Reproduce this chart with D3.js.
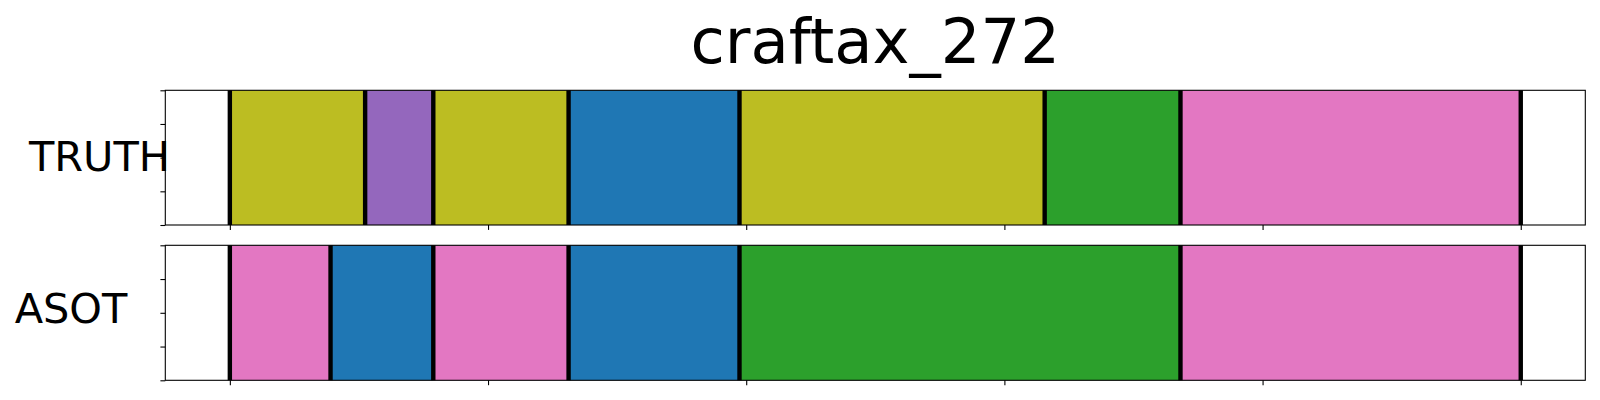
<!DOCTYPE html>
<html>
<head>
<meta charset="utf-8">
<script src="https://cdn.jsdelivr.net/npm/d3@7"></script>
<style>
  html, body { margin: 0; padding: 0; background: #fff; }
  svg { display: block; }
  text { font-family: "DejaVu Sans", sans-serif; fill: #000; }
</style>
</head>
<body>
<svg id="chart" width="1600" height="400"></svg>
<script>
// ---- data ----
const title = "craftax_272";
const rowLabels = ["TRUTH", "ASOT"];
const truthStarts = [0, 26.2, 39.4, 65.6, 98.7, 157.8, 184.1];
const truthEnds   = [26.2, 39.4, 65.6, 98.7, 157.8, 184.1, 250];
const truthClasses = ["olive", "purple", "olive", "blue", "olive", "green", "pink"];
const asotStarts = [0, 19.5, 39.4, 65.6, 98.7, 184.1];
const asotEnds   = [19.5, 39.4, 65.6, 98.7, 184.1, 250];
const asotClasses = ["pink", "blue", "pink", "blue", "green", "pink"];
const classNames = ["blue", "green", "purple", "pink", "olive"];
const classColors = ["#1f77b4", "#2ca02c", "#9467bd", "#e377c2", "#bcbd22"];
const xTicks = [0, 50, 100, 150, 200, 250];
const yTicks = [0, 0.25, 0.5, 0.75, 1];
const xDomain = [-12.5, 262.5];

// ---- layout ----
const svg = d3.select("#chart");
const left = 165.3, right = 1585.3;
const panels = [
  { label: rowLabels[0], starts: truthStarts, ends: truthEnds, cls: truthClasses, top: 90.3, bottom: 225.0, lx: 99.5, ly: 170.5 },
  { label: rowLabels[1], starts: asotStarts, ends: asotEnds, cls: asotClasses, top: 245.3, bottom: 380.3, lx: 71, ly: 323.3 }
];
const color = d3.scaleOrdinal().domain(classNames).range(classColors);
const x = d3.scaleLinear().domain(xDomain).range([left, right]);

svg.append("text")
  .attr("x", (left + right) / 2).attr("y", 63)
  .attr("text-anchor", "middle")
  .style("font-size", "62.5px")
  .text(title);

panels.forEach(p => {
  const y = d3.scaleLinear().domain([0, 1]).range([p.bottom, p.top]);
  const g = svg.append("g");
  const segs = p.starts.map((s, i) => ({ s, e: p.ends[i], c: p.cls[i] }));
  g.selectAll("rect.seg").data(segs).join("rect")
    .attr("class", "seg")
    .attr("x", d => x(d.s)).attr("width", d => x(d.e) - x(d.s))
    .attr("y", y(1)).attr("height", y(0) - y(1))
    .attr("fill", d => color(d.c));
  const bounds = Array.from(new Set(p.starts.concat(p.ends)));
  g.selectAll("line.b").data(bounds).join("line")
    .attr("class", "b")
    .attr("x1", d => x(d)).attr("x2", d => x(d))
    .attr("y1", y(1)).attr("y2", y(0))
    .attr("stroke", "#000").attr("stroke-width", 4.4);

  const xa = d3.axisBottom(x).tickValues(xTicks).tickSize(4.9).tickSizeOuter(0).tickFormat("");
  const gx = g.append("g").attr("transform", `translate(0,${p.bottom})`).call(xa);
  gx.select(".domain").remove();
  gx.selectAll(".tick line").attr("stroke", "#000").attr("stroke-width", 1.1);

  const ya = d3.axisLeft(y).tickValues(yTicks).tickSize(4.9).tickSizeOuter(0).tickFormat("");
  const gy = g.append("g").attr("transform", `translate(${left},0)`).call(ya);
  gy.select(".domain").remove();
  gy.selectAll(".tick line").attr("stroke", "#000").attr("stroke-width", 1.1);

  g.append("rect")
    .attr("x", left).attr("y", p.top)
    .attr("width", right - left).attr("height", p.bottom - p.top)
    .attr("fill", "none").attr("stroke", "#000").attr("stroke-width", 1.1);

  svg.append("text")
    .attr("x", p.lx).attr("y", p.ly)
    .attr("text-anchor", "middle")
    .style("font-size", "41.5px")
    .text(p.label);
});
</script>
</body>
</html>
